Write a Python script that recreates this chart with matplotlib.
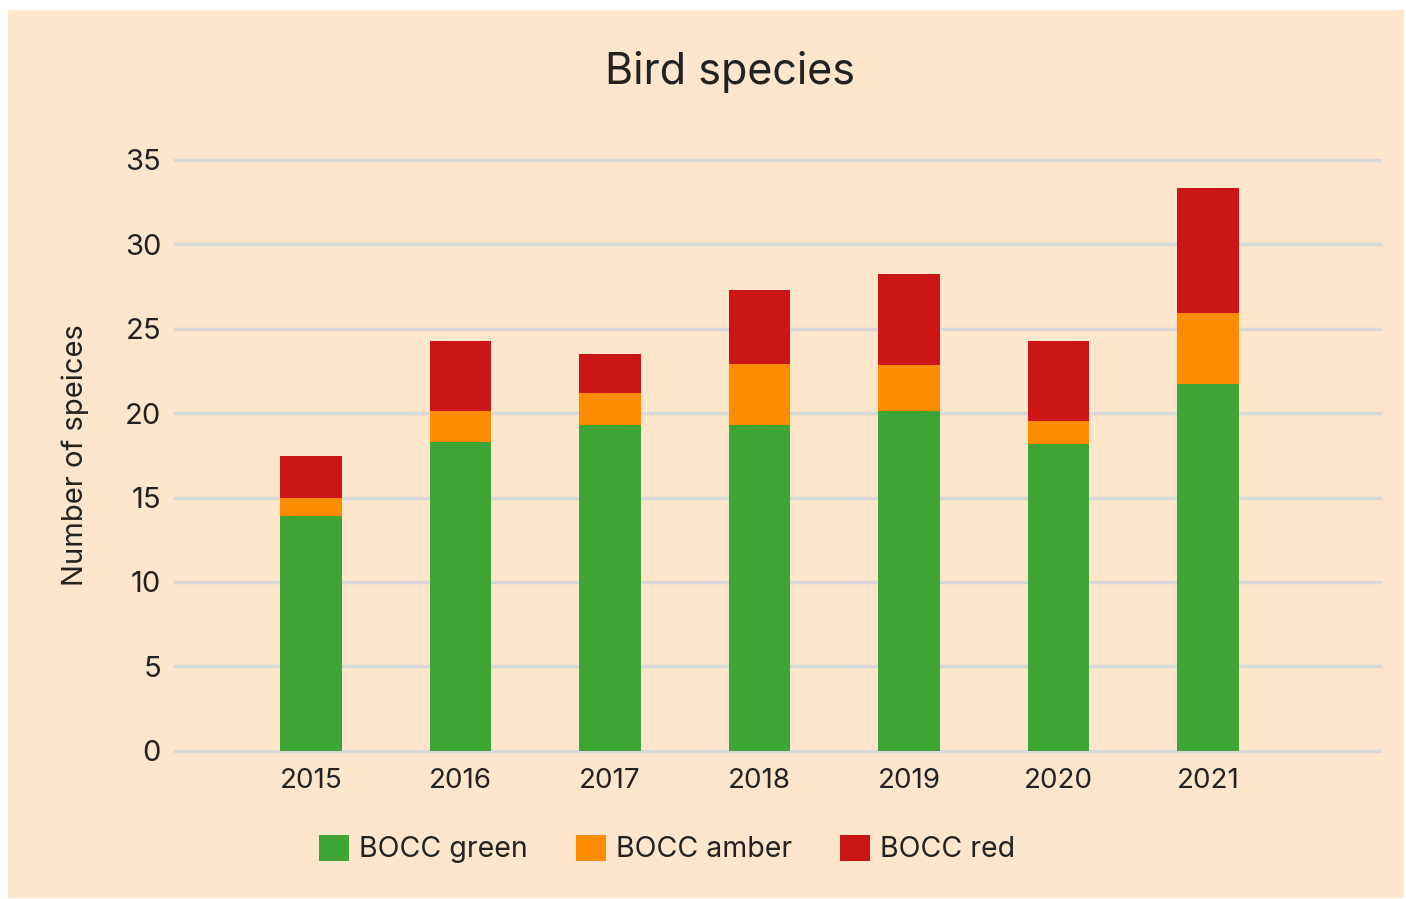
import matplotlib
matplotlib.use("Agg")
import matplotlib.pyplot as plt
from matplotlib.patches import Rectangle, Patch
import numpy as np

years = ["2015", "2016", "2017", "2018", "2019", "2020", "2021"]
green = [13.9, 18.3, 19.3, 19.3, 20.15, 18.2, 21.7]
amber = [1.1, 1.8, 1.9, 3.6, 2.7, 1.35, 4.25]
red = [2.45, 4.15, 2.3, 4.4, 5.4, 4.7, 7.4]
series_names = ["BOCC green", "BOCC amber", "BOCC red"]
yticks = [0, 5, 10, 15, 20, 25, 30, 35]

C_BG = "#FDE6CB"
C_GREEN = "#3FA436"
C_AMBER = "#FF8C00"
C_RED = "#CC1517"
C_TEXT = "#222222"

plt.rcParams['font.family'] = ['Inter', 'DejaVu Sans']

W, H = 1406, 899
fig = plt.figure(figsize=(W / 100, H / 100), dpi=100)
fig.patch.set_facecolor("white")
fig.patches.append(Rectangle((8 / W, 1 / H), (1404 - 8) / W, (898 - 10) / H,
                             transform=fig.transFigure, facecolor=C_BG,
                             edgecolor="none", zorder=-10))

ax = fig.add_axes([175 / W, (H - 750.7) / H, (1380 - 175) / W, (750.7 - 160) / H])
ax.set_zorder(1)
ax.set_facecolor("none")

x = np.arange(len(years))
bw = 0.41
g = np.array(green)
a = np.array(amber)
r = np.array(red)
ax.bar(x, g, bw, color=C_GREEN, zorder=3)
ax.bar(x, a, bw, bottom=g, color=C_AMBER, zorder=3)
ax.bar(x, r, bw, bottom=g + a, color=C_RED, zorder=3)

ax.set_xlim(-0.91, 7.15)
ax.set_ylim(0, 35)
ax.set_yticks(yticks)
ax.set_xticks(x)
ax.set_xticklabels(years)
ax.tick_params(axis="y", length=0, labelsize=21, colors=C_TEXT, pad=10)
ax.tick_params(axis="x", length=0, labelsize=20, colors=C_TEXT, pad=12.5)
ax.yaxis.grid(True, color="#D8D8D8", linewidth=2.5, zorder=0)
ax.set_axisbelow(True)
for s in ax.spines.values():
    s.set_visible(False)
for gl in ax.get_ygridlines():
    gl.set_clip_on(False)

ax.set_ylabel("Number of speices", fontsize=21, color=C_TEXT, labelpad=26)

fig.text(730 / W, 1 - 72 / H, "Bird species", ha="center", va="center",
         fontsize=31, color=C_TEXT)

handles = [Patch(facecolor=c, edgecolor="none") for c in (C_GREEN, C_AMBER, C_RED)]
fig.legend(handles, series_names, loc="center", bbox_to_anchor=(667 / W, 1 - 849 / H),
           ncol=3, frameon=False, fontsize=20.5, handlelength=1.05, handleheight=1.05,
           handletextpad=0.35, columnspacing=1.7, labelcolor=C_TEXT)

fig.savefig("out.png", dpi=100, facecolor=fig.get_facecolor())
